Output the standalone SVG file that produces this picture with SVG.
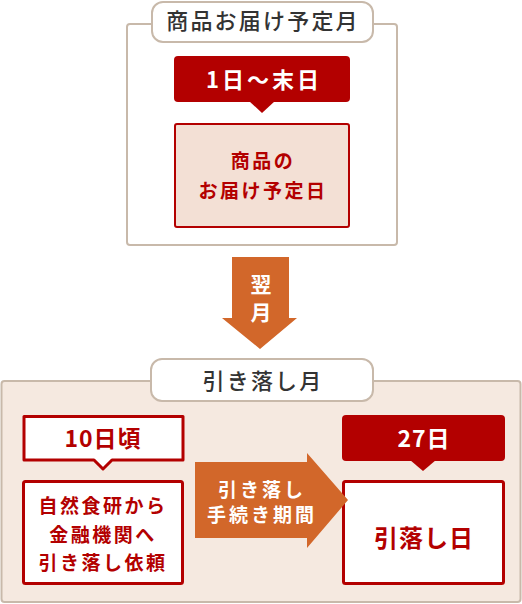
<svg xmlns="http://www.w3.org/2000/svg" width="522" height="604" viewBox="0 0 522 604">
<style>
text{font-family:"Noto Sans CJK JP","Noto Sans",sans-serif;text-anchor:middle}
.panel{stroke:#c8b9aa;stroke-width:2}
.pill{fill:#fff;stroke:#c8b9aa;stroke-width:2}
.title{fill:#333;font-size:22px;letter-spacing:2.2px;font-weight:500}
.redfill{fill:#b30000}
.redbox{stroke:#b30000;stroke-width:3}
.wt{fill:#fff;font-weight:bold}
.rt{fill:#b30000;font-weight:bold}
.arrow{fill:#d2672a}
</style>
<g id="panel-top">
<rect class="panel" x="127" y="24" width="270" height="221" rx="3" fill="#fff"/>
<rect class="pill" x="152" y="2" width="221" height="40" rx="11"/>
<text class="title" x="263" y="29">商品お届け予定月</text>
</g>
<g id="panel-bottom">
<rect class="panel" x="1.5" y="381" width="519" height="221" rx="3" fill="#f5e9e0"/>
<rect class="pill" x="151" y="359" width="222" height="42" rx="11"/>
<text class="title" x="263" y="389">引き落し月</text>
</g>
<g id="label-1-end">
<rect class="redfill" x="174" y="56" width="176" height="46" rx="4"/>
<path class="redfill" d="M249,101 L262,113 L275,101 Z"/>
<text class="wt" x="264" y="88" font-size="22" letter-spacing="3">1日〜末日</text>
</g>
<g id="box-delivery">
<rect x="175" y="124" width="174" height="103" rx="2" fill="#f3e0d5" stroke="#b30000" stroke-width="2"/>
<text class="rt" x="263" y="168" font-size="19" letter-spacing="2.5">商品の</text>
<text class="rt" x="263" y="198" font-size="19" letter-spacing="2.5">お届け予定日</text>
</g>
<g id="label-10th">
<path d="M24,416.5 H183 V460 H112 L103,469 L94,460 H24 Z" fill="#fff" stroke="#b30000" stroke-width="3" stroke-linejoin="round"/>
<text class="rt" x="103" y="447" font-size="23" letter-spacing="1">10日頃</text>
</g>
<g id="box-request">
<rect class="redbox" x="23.5" y="481.5" width="159" height="102" rx="2" fill="#fff"/>
<text class="rt" x="103" y="513" font-size="19" letter-spacing="2.5">自然食研から</text>
<text class="rt" x="103" y="542" font-size="19" letter-spacing="2.5">金融機関へ</text>
<text class="rt" x="103" y="570" font-size="19" letter-spacing="2.5">引き落し依頼</text>
</g>
<g id="label-27th">
<rect class="redfill" x="342" y="415" width="163" height="46" rx="4"/>
<path class="redfill" d="M410,460 L423,471 L436,460 Z"/>
<text class="wt" x="424" y="447" font-size="23" letter-spacing="1">27日</text>
</g>
<g id="box-debit-day">
<rect class="redbox" x="343.5" y="481.5" width="160" height="102" rx="2" fill="#fff"/>
<text class="rt" x="424" y="547" font-size="24" letter-spacing="1">引落し日</text>
</g>
<g id="connectors">
<g id="arrow-next-month">
<path class="arrow" d="M232,257 L289,257 L289,318 L297,318 L260,349 L222,318 L232,318 Z"/>
<text class="wt" x="261" y="292" font-size="21">翌</text>
<text class="wt" x="261" y="320" font-size="21">月</text>
</g>
<g id="arrow-period">
<path class="arrow" d="M195,462 L307,462 L307,453 L348,500 L307,548 L307,538 L195,538 Z"/>
<text class="wt" x="262" y="497" font-size="19" letter-spacing="3">引き落し</text>
<text class="wt" x="262" y="522" font-size="19" letter-spacing="3">手続き期間</text>
</g>
</g>
</svg>
